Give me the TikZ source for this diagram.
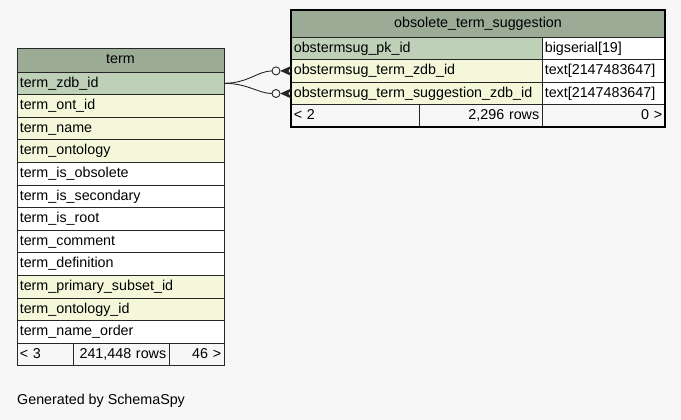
\documentclass[tikz,border=0pt]{standalone}
\usepackage{fontspec}
\setmainfont{Liberation Sans}
\usetikzlibrary{positioning}
\definecolor{headgreen}{HTML}{9BAB96}
\definecolor{pkgreen}{HTML}{BED1B8}
\definecolor{fkyellow}{HTML}{F4F7DA}
\definecolor{pagegray}{HTML}{F7F7F7}
\tikzset{
  cell/.style = {draw = black!85, line width = 0.9pt, anchor = north west,
    inner xsep = 2.8pt, inner ysep = 0pt, outer sep = 0pt, minimum height = 22.6pt,
    text height = 10.5pt, text depth = 3pt, align = left,
    font = \fontsize{14.3}{16}\selectfont},
  head/.style = {cell, fill = headgreen, align = center},
  pk/.style = {cell, fill = pkgreen},
  fk/.style = {cell, fill = fkyellow},
  plain/.style = {cell, fill = white},
  foot/.style = {cell, fill = pagegray},
  edge/.style = {draw = black!85, line width = 0.9pt},
  crow/.style = {fill = black!85, draw = black!85, line width = 0.6pt}
}
\begin{document}
\begin{tikzpicture}[x = 1pt, y = -1pt]
    \fill[pagegray] (0,0) rectangle (681,420);
    \useasboundingbox (0,0) rectangle (681,420);
    % term table
    \node[head, text width = 201.4pt, minimum height = 24pt] (th) at (17,48) {term};
    \node[pk, text width = 201.4pt] (t1) at (th.south west) {term\_zdb\_id};
    \node[fk, text width = 201.4pt] (t2) at (t1.south west) {term\_ont\_id};
    \node[fk, text width = 201.4pt] (t3) at (t2.south west) {term\_name};
    \node[fk, text width = 201.4pt] (t4) at (t3.south west) {term\_ontology};
    \node[plain, text width = 201.4pt] (t5) at (t4.south west) {term\_is\_obsolete};
    \node[plain, text width = 201.4pt] (t6) at (t5.south west) {term\_is\_secondary};
    \node[plain, text width = 201.4pt] (t7) at (t6.south west) {term\_is\_root};
    \node[plain, text width = 201.4pt] (t8) at (t7.south west) {term\_comment};
    \node[plain, text width = 201.4pt] (t9) at (t8.south west) {term\_definition};
    \node[fk, text width = 201.4pt] (t10) at (t9.south west) {term\_primary\_subset\_id};
    \node[fk, text width = 201.4pt] (t11) at (t10.south west) {term\_ontology\_id};
    \node[plain, text width = 201.4pt] (t12) at (t11.south west) {term\_name\_order};
    \node[foot, text width = 50.4pt] (tf1) at (t12.south west) {< 3};
    \node[foot, text width = 90.4pt, align = right] (tf2) at (tf1.north east) {241,448 rows};
    \node[foot, text width = 49.4pt, align = right] (tf3) at (tf2.north east) {46 >};
    % obsolete_term_suggestion table
    \node[head, text width = 368.4pt, minimum height = 27pt] (oh) at (291,10) {obsolete\_term\_suggestion};
    \node[pk, text width = 245.4pt] (o1) at (oh.south west) {obstermsug\_pk\_id};
    \node[plain, text width = 117.4pt] (o1t) at (o1.north east) {bigserial[19]};
    \node[fk, text width = 245.4pt] (o2) at (o1.south west) {obstermsug\_term\_zdb\_id};
    \node[plain, text width = 117.4pt] (o2t) at (o2.north east) {text[2147483647]};
    \node[fk, text width = 245.4pt] (o3) at (o2.south west) {obstermsug\_term\_suggestion\_zdb\_id};
    \node[plain, text width = 117.4pt] (o3t) at (o3.north east) {text[2147483647]};
    \node[foot, text width = 122.4pt] (of1) at (o3.south west) {< 2};
    \node[foot, text width = 117.4pt, align = right] (of2) at (of1.north east) {2,296 rows};
    \node[foot, text width = 117.4pt, align = right] (of3) at (of2.north east) {0 >};
    \draw[line width = 2pt] (oh.north west) rectangle (of3.south east);
    % relationships
    \draw[edge] (t1.east) .. controls +(24,0) and +(-14,0) .. ([xshift = -19pt]o2.west);
    \draw[edge] ([xshift = -15pt]o2.west) circle (4pt);
    \filldraw[crow] ([xshift = -10pt]o2.west) -- ([yshift = -4.5pt]o2.west)
      -- ([xshift = -3pt]o2.west) -- ([yshift = 4.5pt]o2.west) -- cycle;
    \draw[edge] (t1.east) .. controls +(24,0) and +(-14,0) .. ([xshift = -19pt]o3.west);
    \draw[edge] ([xshift = -15pt]o3.west) circle (4pt);
    \filldraw[crow] ([xshift = -10pt]o3.west) -- ([yshift = -4.5pt]o3.west)
      -- ([xshift = -3pt]o3.west) -- ([yshift = 4.5pt]o3.west) -- cycle;
    % footer text
    \node[anchor = base west, inner sep = 0pt, font = \fontsize{14.3}{16}\selectfont] (gen) at (17,404) {Generated by SchemaSpy};
\end{tikzpicture}
\end{document}
